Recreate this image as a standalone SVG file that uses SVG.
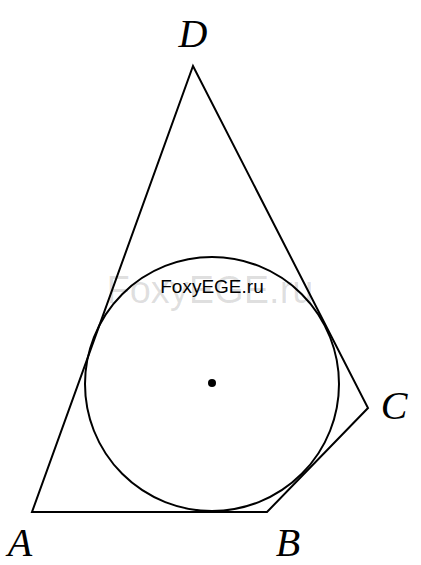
<svg xmlns="http://www.w3.org/2000/svg" width="421" height="565" viewBox="0 0 421 565">
<style>
.ln{fill:none;stroke:#000;stroke-width:2;stroke-linejoin:miter}
.lbl{font-family:"Liberation Serif",serif;font-style:italic;font-size:40px;fill:#000}
</style>
<rect width="421" height="565" fill="#fff"/>
<g id="figure">
<polygon class="ln" points="32,512 267,512 368,408 193,66"/>
<circle class="ln" cx="212" cy="384" r="127"/>
<circle cx="212" cy="383" r="4" fill="#000"/>
</g>
<g id="watermark">
<text x="210" y="303" text-anchor="middle" font-family="Liberation Sans, sans-serif" font-size="38" fill="#000" fill-opacity="0.13">FoxyEGE.ru</text>
<text x="212" y="293" text-anchor="middle" font-family="Liberation Sans, sans-serif" font-size="19" fill="#000">FoxyEGE.ru</text>
</g>
<g id="labels">
<text class="lbl" x="193" y="47" text-anchor="middle">D</text>
<text class="lbl" x="20" y="556" text-anchor="middle">A</text>
<text class="lbl" x="288" y="556" text-anchor="middle">B</text>
<text class="lbl" x="394" y="419" text-anchor="middle">C</text>
</g>
</svg>
